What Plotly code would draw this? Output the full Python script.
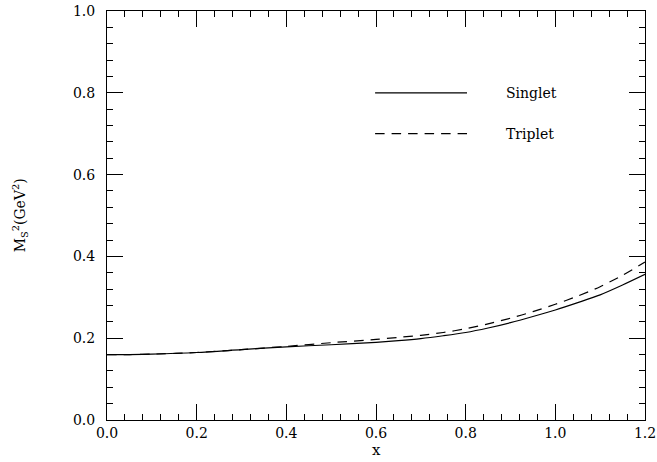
import plotly.graph_objects as go

x_vals = [0.0, 0.05, 0.1, 0.2, 0.3, 0.4, 0.5, 0.6, 0.65, 0.7, 0.75, 0.8, 0.85, 0.9, 0.95, 1.0, 1.05, 1.1, 1.15, 1.2]
singlet = [0.160, 0.160, 0.161, 0.165, 0.172, 0.179, 0.184, 0.190, 0.194, 0.199, 0.206, 0.214, 0.225, 0.238, 0.253, 0.269, 0.287, 0.306, 0.330, 0.356]
triplet = [0.160, 0.160, 0.161, 0.165, 0.172, 0.180, 0.189, 0.197, 0.202, 0.207, 0.214, 0.223, 0.235, 0.249, 0.265, 0.283, 0.303, 0.326, 0.354, 0.386]

legend_names = ["Singlet", "Triplet"]
legend_y = [0.80, 0.70]

x_title = "x"
y_title = "M<sub>S</sub><sup>2</sup>(GeV<sup>2</sup>)"

FONT = "DejaVu Serif"
DASH = "9.5px,7px"

fig = go.Figure()
fig.add_trace(go.Scatter(x=x_vals, y=singlet, mode="lines", name="Singlet",
                         line=dict(color="black", width=1.2, shape="spline", smoothing=0.8),
                         showlegend=False))
fig.add_trace(go.Scatter(x=x_vals, y=triplet, mode="lines", name="Triplet",
                         line=dict(color="black", width=1.2, dash=DASH, shape="spline", smoothing=0.8),
                         showlegend=False))

dashes = ["solid", DASH]
for name, yy, d in zip(legend_names, legend_y, dashes):
    fig.add_shape(type="line", xref="x", yref="y", x0=0.598, x1=0.803, y0=yy, y1=yy,
                  line=dict(color="black", width=1.2, dash=d))
    fig.add_annotation(x=0.885, y=yy, xref="x", yref="y", text=name, showarrow=False,
                       xanchor="left", yanchor="middle", font=dict(family=FONT, size=14, color="black"))

# axis titles
fig.add_annotation(x=0.5, y=-0.073, xref="paper", yref="paper", text=x_title, showarrow=False,
                   xanchor="center", yanchor="middle", font=dict(family=FONT, size=15, color="black"))
fig.add_annotation(x=-0.162, y=0.50, xref="paper", yref="paper", text=y_title, showarrow=False,
                   textangle=-90, xanchor="center", yanchor="middle",
                   font=dict(family=FONT, size=14, color="black"))

axis_common = dict(showline=True, linecolor="black", linewidth=1, mirror="ticks",
                   ticks="inside", ticklen=16, tickwidth=1, tickcolor="black",
                   showgrid=False, zeroline=False, automargin=False,
                   tickfont=dict(family=FONT, size=14, color="black"))

fig.update_xaxes(range=[0, 1.2], dtick=0.2, tick0=0, tickformat=".1f",
                 minor=dict(dtick=0.04, ticks="inside", ticklen=6, tickcolor="black", tickwidth=1),
                 **axis_common)
fig.update_yaxes(range=[0, 1.0], dtick=0.2, tick0=0, tickformat=".1f",
                 minor=dict(dtick=0.04, ticks="inside", ticklen=6, tickcolor="black", tickwidth=1),
                 ticklabelstandoff=8,
                 **axis_common)

fig.update_layout(width=657, height=462, margin=dict(l=107, r=12, t=11, b=42),
                  plot_bgcolor="white", paper_bgcolor="white", showlegend=False)

fig.write_html("out.html", config={"displayModeBar": False},
               post_script="document.body.style.margin='0';")
